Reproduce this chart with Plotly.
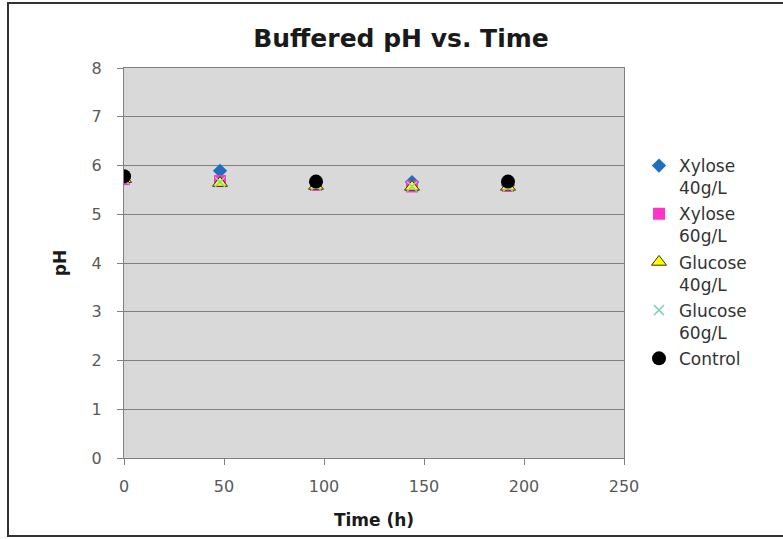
import plotly.graph_objects as go

time_h = [0, 48, 96, 144, 192]
control_time = [0, 96, 192]
xylose40 = [5.75, 5.89, 5.65, 5.66, 5.60]
xylose60 = [5.72, 5.68, 5.60, 5.57, 5.58]
glucose40 = [5.72, 5.64, 5.58, 5.56, 5.56]
glucose60 = [5.72, 5.66, 5.59, 5.57, 5.57]
control = [5.78, 5.67, 5.67]

FONT = "DejaVu Sans, Verdana, sans-serif"

fig = go.Figure()
fig.add_trace(go.Scatter(x=time_h, y=xylose40, mode="markers", name="Xylose<br>40g/L", legendgroup="a",
                         marker=dict(symbol="diamond", size=11, color="#1f6fbf", line=dict(width=0))))
fig.add_trace(go.Scatter(x=time_h, y=xylose60, mode="markers", name="Xylose<br>60g/L", legendgroup="b",
                         marker=dict(symbol="square", size=12, color="#ff33cc", line=dict(width=0))))
fig.add_trace(go.Scatter(x=time_h, y=glucose40, mode="markers", name="Glucose<br>40g/L", legendgroup="c",
                         marker=dict(symbol="triangle-up", size=13, color="#ffff00", line=dict(width=1, color="#333300"))))
fig.add_trace(go.Scatter(x=time_h, y=glucose60, mode="markers", name="Glucose<br>60g/L", legendgroup="d",
                         marker=dict(symbol="x-thin-open", size=10, color="#7fd4bf", line=dict(width=1.5, color="#7fd4bf"))))
fig.add_trace(go.Scatter(x=control_time, y=control, mode="markers", name="Control", legendgroup="e",
                         marker=dict(symbol="circle", size=14, color="#000000", line=dict(width=0))))

fig.update_layout(
    width=783, height=539,
    margin=dict(l=124, r=159, t=68, b=81),
    paper_bgcolor="white", plot_bgcolor="#d9d9d9",
    font=dict(family=FONT, color="#595959", size=16),
    title=dict(text="<b>Buffered pH vs. Time</b>", x=(401 - 124) / 500, xref="paper", xanchor="center",
               y=1 - 38 / 539, yanchor="middle", font=dict(family=FONT, size=25, color="#1a1a1a")),
    legend=dict(x=(639 - 124) / 500, xanchor="left", y=(458 - 148) / 390, yanchor="top",
                tracegroupgap=1, valign="top",
                font=dict(family=FONT, size=17, color="#333333"), bgcolor="rgba(0,0,0,0)"),
    showlegend=True,
    xaxis=dict(range=[0, 250], tickvals=[0, 50, 100, 150, 200, 250], showgrid=False,
               zeroline=False, showline=True, linecolor="#808080", linewidth=1, mirror=True,
               ticks="outside", ticklen=6, tickcolor="#808080", ticklabelstandoff=8,
               title=dict(text="<b>Time (h)</b>", font=dict(family=FONT, size=17, color="#1a1a1a"), standoff=18)),
    yaxis=dict(range=[0, 8], tickvals=list(range(9)), showgrid=True, gridcolor="#808080", gridwidth=1,
               zeroline=False, showline=True, linecolor="#808080", linewidth=1, mirror=True,
               ticks="outside", ticklen=6, tickcolor="#808080", ticklabelstandoff=12,
               title=dict(text="<b>pH</b>", font=dict(family=FONT, size=17, color="#1a1a1a"), standoff=20)),
)
fig.add_shape(type="rect", xref="paper", yref="paper",
              x0=(8 - 124) / 500, x1=(790 - 124) / 500,
              y0=(458 - 536) / 390, y1=(458 - 3) / 390,
              line=dict(color="#333333", width=2), fillcolor="rgba(0,0,0,0)", layer="below")

fig.write_html("out.html")
